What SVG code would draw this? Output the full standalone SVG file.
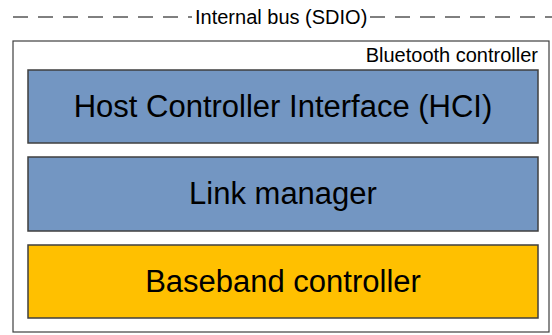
<svg xmlns="http://www.w3.org/2000/svg" width="552" height="335" viewBox="0 0 552 335">
<style>
text{font-family:"Liberation Sans",Arial,sans-serif;fill:#000}
.blk{stroke:#3f3f3f;stroke-width:1.5}
.big{font-size:31px;text-anchor:middle}
.sm{font-size:20px}
</style>
<rect width="552" height="335" fill="#fff"/>
<g id="connectors">
<line x1="13" y1="17" x2="192" y2="17" stroke="#000" stroke-width="1" stroke-dasharray="15,10"/>
<line x1="370" y1="17" x2="552" y2="17" stroke="#000" stroke-width="1" stroke-dasharray="15,10"/>
<text class="sm" x="195" y="24">Internal bus (SDIO)</text>
</g>
<g id="bluetooth-controller">
<rect x="13" y="41" width="536" height="291" fill="#fff" stroke="#3f3f3f" stroke-width="1.2"/>
<text class="sm" x="538" y="62" text-anchor="end">Bluetooth controller</text>
</g>
<g id="hci">
<rect class="blk" x="28" y="70" width="510" height="73" fill="#7396c2"/>
<text class="big" x="283" y="117">Host Controller Interface (HCI)</text>
</g>
<g id="link-manager">
<rect class="blk" x="28" y="157" width="510" height="74" fill="#7396c2"/>
<text class="big" x="283" y="204">Link manager</text>
</g>
<g id="baseband">
<rect class="blk" x="28" y="245" width="510" height="73" fill="#ffc000"/>
<text class="big" x="283" y="292">Baseband controller</text>
</g>
</svg>
